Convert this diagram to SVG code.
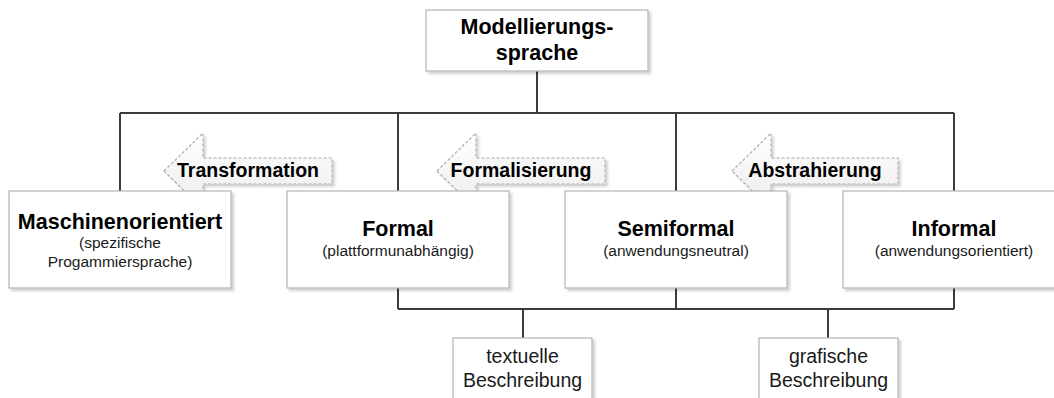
<svg xmlns="http://www.w3.org/2000/svg" width="1054" height="398" viewBox="0 0 1054 398">
<defs>
  <filter id="sh" x="-10%" y="-10%" width="130%" height="140%">
    <feDropShadow dx="2.5" dy="2.5" stdDeviation="1.2" flood-color="#000" flood-opacity="0.18"/>
  </filter>
  <linearGradient id="ag" x1="0" y1="0" x2="0" y2="1">
    <stop offset="0" stop-color="#ffffff"/>
    <stop offset="1" stop-color="#ececec"/>
  </linearGradient>
  <style>
    .box{fill:#ffffff;stroke:#b4b4b4;stroke-width:1.2;filter:url(#sh)}
    .con{fill:none;stroke:#3c3c3c;stroke-width:2}
    .arr{fill:url(#ag);stroke:#a8a8a8;stroke-width:1.1;stroke-dasharray:3 2;filter:url(#sh)}
    .h{font-family:"Liberation Sans",Arial,sans-serif;font-weight:bold;font-size:21.5px;fill:#000;text-anchor:middle}
    .s{font-family:"Liberation Sans",Arial,sans-serif;font-size:15.5px;fill:#1a1a1a;text-anchor:middle}
    .a{font-family:"Liberation Sans",Arial,sans-serif;font-weight:bold;font-size:19.5px;fill:#000;text-anchor:middle}
    .b{font-family:"Liberation Sans",Arial,sans-serif;font-size:19.5px;fill:#1a1a1a;text-anchor:middle}
  </style>
</defs>
<rect width="1054" height="398" fill="#ffffff"/>
<g id="connectors">
  <path class="con" d="M537,71 V113 M120,113 H954 M120,113 V191 M398,113 V309 M676,113 V309 M954,113 V309 M398,309 H954 M523,309 V338 M828,309 V338"/>
</g>
<g id="arrow-transformation">
  <path class="arr" d="M164,171 L203,133 L203,158 L332,158 L332,184 L203,184 L203,209 Z"/>
  <text class="a" x="248" y="177">Transformation</text>
</g>
<g id="arrow-formalisierung">
  <path class="arr" d="M437,171 L476,133 L476,158 L605,158 L605,184 L476,184 L476,209 Z"/>
  <text class="a" x="521" y="177">Formalisierung</text>
</g>
<g id="arrow-abstrahierung">
  <path class="arr" d="M732,171 L771,133 L771,158 L898,158 L898,184 L771,184 L771,209 Z"/>
  <text class="a" x="815" y="177">Abstrahierung</text>
</g>
<g id="modellierungssprache">
  <rect class="box" x="426" y="10" width="222" height="61"/>
  <text class="h" x="537" y="34">Modellierungs-</text>
  <text class="h" x="537" y="60">sprache</text>
</g>
<g id="maschinenorientiert">
  <rect class="box" x="9" y="191" width="222" height="97"/>
  <text class="h" x="120" y="229">Maschinenorientiert</text>
  <text class="s" x="120" y="248">(spezifische</text>
  <text class="s" x="120" y="267">Progammiersprache)</text>
</g>
<g id="formal">
  <rect class="box" x="287" y="191" width="222" height="97"/>
  <text class="h" x="398" y="236">Formal</text>
  <text class="s" x="398" y="256">(plattformunabhängig)</text>
</g>
<g id="semiformal">
  <rect class="box" x="565" y="191" width="222" height="97"/>
  <text class="h" x="676" y="236">Semiformal</text>
  <text class="s" x="676" y="256">(anwendungsneutral)</text>
</g>
<g id="informal">
  <rect class="box" x="843" y="191" width="222" height="97"/>
  <text class="h" x="954" y="236">Informal</text>
  <text class="s" x="954" y="256">(anwendungsorientiert)</text>
</g>
<g id="textuelle">
  <rect class="box" x="453" y="338" width="139" height="70"/>
  <text class="b" x="522.5" y="363">textuelle</text>
  <text class="b" x="522.5" y="387">Beschreibung</text>
</g>
<g id="grafische">
  <rect class="box" x="759" y="338" width="139" height="70"/>
  <text class="b" x="828.5" y="363">grafische</text>
  <text class="b" x="828.5" y="387">Beschreibung</text>
</g>
</svg>
